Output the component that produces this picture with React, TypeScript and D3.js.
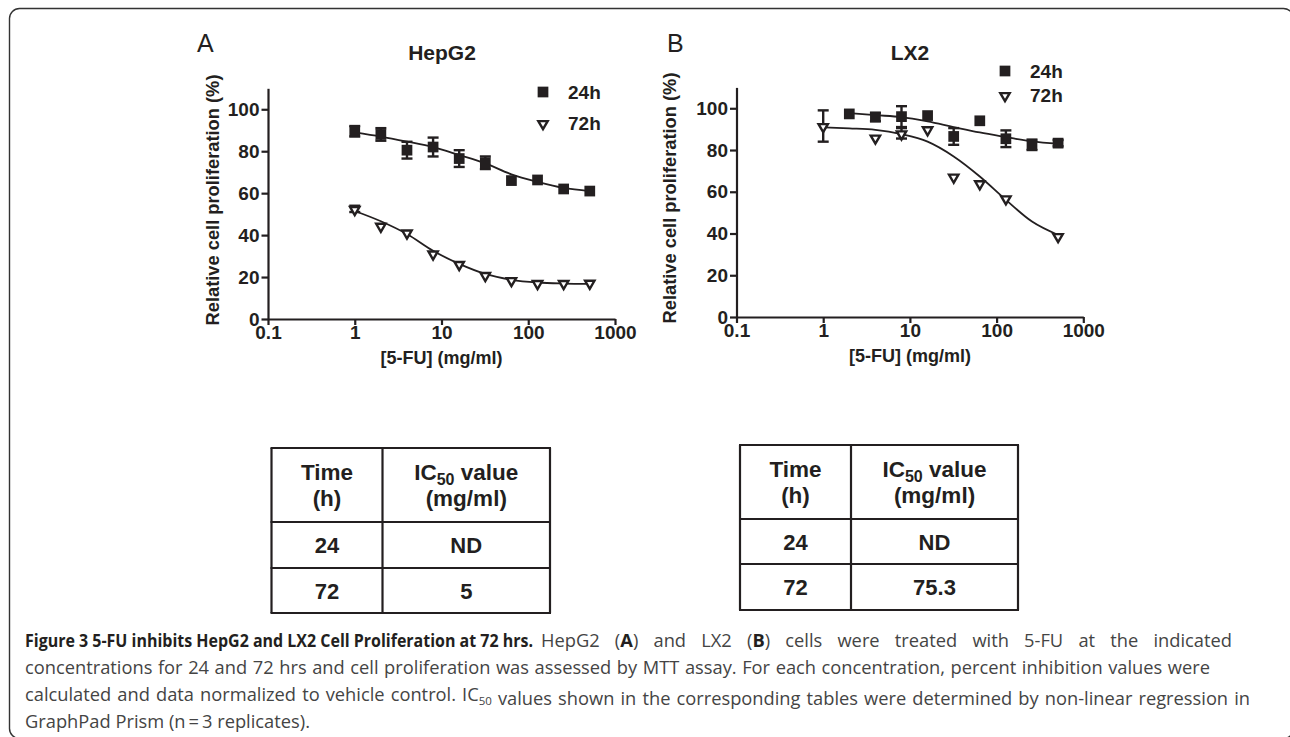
import React, { useEffect, useRef } from "react";
import * as d3 from "d3";

// concentrations of 5-FU (mg/ml)
const doses = [1, 2, 4, 8, 16, 32, 64, 128, 256, 512];
const xTicks = [0.1, 1, 10, 100, 1000];
const yTicks = [0, 20, 40, 60, 80, 100];
const seriesNames = ["24h", "72h"];

// HepG2 (panel A), null = no point
const hepg2Mean24 = [89.5, 88, 80.5, 82, 76.5, 74.5, 66, 66.3, 62, 61];
const hepg2Err24 = [2.5, 3, 4, 4.5, 4, 3, 0, 0, 0, 0];
const hepg2Mean72 = [52.5, 44.5, 41.3, 31.3, 26.3, 21, 18.6, 17.2, 17.2, 17.3];
const hepg2Err72 = [1.5, 0, 0, 0, 0, 0, 0, 0, 0, 0];
const hepg2Fit24 = [89, 87, 84.6, 82, 78.2, 74.2, 69, 65.4, 62.5, 61];
const hepg2Fit72 = [51.5, 46.6, 40.5, 32.5, 26.3, 21.5, 18.7, 17.4, 16.9, 16.7];

// LX2 (panel B)
const lx2Mean24 = [null, 97.3, 95.8, 96, 96.5, 86.5, 94, 85.4, 82.5, 83.3];
const lx2Err24 = [0, 0, 2, 5, 0, 4, 0, 4, 2.5, 1.5];
const lx2Mean72 = [91.5, null, 86, 88, 90, 67.3, 64.1, 56.9, null, 38.8];
const lx2Err72 = [7.5, 0, 0, 2.5, 0, 0, 0, 0, 0, 0];
const lx2Fit24 = [null, 97.7, 96.7, 95.8, 93.7, 91, 88.4, 86.2, 84.1, 83];
const lx2Fit72 = [90.9, 90.4, 89.7, 87.6, 84, 76.9, 67.3, 56.1, 45.7, 39.3];

// IC50 tables
const tableHeader = [["Time", "(h)"], ["IC50 value", "(mg/ml)"]];
const tableTimes = ["24", "72"];
const hepg2Ic50 = ["ND", "5"];
const lx2Ic50 = ["ND", "75.3"];

const captionBold = "Figure 3 5-FU inhibits HepG2 and LX2 Cell Proliferation at 72 hrs.";
const captionLines = [
  "HepG2 (|A|) and LX2 (|B|) cells were treated with 5-FU at the indicated",
  "concentrations for 24 and 72 hrs and cell proliferation was assessed by MTT assay. For each concentration, percent inhibition values were",
  "calculated and data normalized to vehicle control. IC|50| values shown in the corresponding tables were determined by non-linear regression in",
  "GraphPad Prism (n\u2009=\u20093 replicates).",
];
// [x start, right end] of each justified caption run; null = natural width
const captionBoldBox = [25, 533];
const captionBoxes = [[541, 1232], [25, 1210], [25, 1250], [25, null]];

const FONT = "'Liberation Sans', Arial, Helvetica, sans-serif";
const INK = "#231f20";

function drawPanel(svg, p) {
  const g = svg.append("g");
  const x = d3.scaleLog().domain([xTicks[0], xTicks[xTicks.length - 1]]).range([p.x0, p.x1]);
  const y = d3.scaleLinear().domain([0, 110]).range([p.y0, p.y110]);

  // axes
  const xa = g
    .append("g")
    .attr("transform", `translate(0,${p.y0})`)
    .call(d3.axisBottom(x).tickValues(xTicks).tickFormat((d) => String(d)).tickSize(6).tickSizeOuter(0).tickPadding(1));
  const ya = g
    .append("g")
    .attr("transform", `translate(${p.x0},0)`)
    .call(d3.axisLeft(y).tickValues(yTicks).tickSize(6.5).tickSizeOuter(0).tickPadding(2));
  [xa, ya].forEach((a) => {
    a.attr("font-family", FONT).attr("font-size", 19).attr("font-weight", "bold");
    a.selectAll("path,line").attr("stroke", INK).attr("stroke-width", 2.2);
    a.selectAll("text").attr("fill", INK);
  });

  // fitted curves
  const line = d3
    .line()
    .x((d) => x(d[0]))
    .y((d) => y(d[1]))
    .curve(d3.curveMonotoneX);
  [p.fit24, p.fit72].forEach((fit) => {
    const pts = doses.map((d, i) => [d, fit[i]]).filter((d) => d[1] != null);
    g.append("path").attr("d", line(pts)).attr("fill", "none").attr("stroke", INK).attr("stroke-width", 1.8);
  });

  // error bars
  const bars = [];
  [[p.mean24, p.err24], [p.mean72, p.err72]].forEach(([m, e]) => {
    doses.forEach((d, i) => {
      if (m[i] != null && e[i] > 0) bars.push({ d, lo: m[i] - e[i], hi: m[i] + e[i] });
    });
  });
  const eb = g.append("g").attr("stroke", INK).attr("stroke-width", 2.4);
  bars.forEach((b) => {
    eb.append("line").attr("x1", x(b.d)).attr("x2", x(b.d)).attr("y1", y(b.lo)).attr("y2", y(b.hi));
    [b.lo, b.hi].forEach((v) =>
      eb.append("line").attr("x1", x(b.d) - 5.5).attr("x2", x(b.d) + 5.5).attr("y1", y(v)).attr("y2", y(v))
    );
  });

  const square = d3.symbol(d3.symbolSquare, 115)();
  const tri = d3.symbol(d3.symbolTriangle, 38)();

  doses.forEach((d, i) => {
    if (p.mean72[i] == null) return;
    g.append("path")
      .attr("d", tri)
      .attr("transform", `translate(${x(d)},${y(p.mean72[i]) + 0.8}) rotate(180)`)
      .attr("fill", "#fff")
      .attr("stroke", INK)
      .attr("stroke-width", 2.4);
  });
  doses.forEach((d, i) => {
    if (p.mean24[i] == null) return;
    g.append("path").attr("d", square).attr("transform", `translate(${x(d)},${y(p.mean24[i])})`).attr("fill", INK);
  });

  // legend
  const lg = g.append("g").attr("transform", `translate(${p.legX},${p.legY})`);
  lg.append("path").attr("d", square).attr("fill", INK);
  lg.append("path")
    .attr("d", tri)
    .attr("transform", `translate(0,${p.legGap + 0.8}) rotate(180)`)
    .attr("fill", "#fff")
    .attr("stroke", INK)
    .attr("stroke-width", 2.4);
  seriesNames.forEach((s, i) =>
    lg
      .append("text")
      .attr("x", 25)
      .attr("y", i * p.legGap)
      .attr("dy", "0.35em")
      .attr("font-family", FONT)
      .attr("font-size", 19)
      .attr("font-weight", "bold")
      .attr("fill", INK)
      .text(s)
  );

  // titles and labels
  const cx = (p.x0 + p.x1) / 2;
  g.append("text").attr("x", p.letterX).attr("y", p.letterY).attr("font-family", FONT).attr("font-size", 25).attr("fill", INK).text(p.letter);
  g.append("text")
    .attr("x", p.titleX)
    .attr("y", 60)
    .attr("text-anchor", "middle")
    .attr("font-family", FONT)
    .attr("font-size", 21)
    .attr("font-weight", "bold")
    .attr("fill", INK)
    .text(p.title);
  g.append("text")
    .attr("x", cx)
    .attr("y", p.y0 + 45)
    .attr("text-anchor", "middle")
    .attr("font-family", FONT)
    .attr("font-size", 18)
    .attr("font-weight", "bold")
    .attr("fill", INK)
    .text("[5-FU] (mg/ml)");
  g.append("text")
    .attr("transform", `translate(${p.yLabX},${p.y0 - 119}) rotate(-90)`)
    .attr("text-anchor", "middle")
    .attr("dy", "0.35em")
    .attr("font-family", FONT)
    .attr("font-size", 18.3)
    .attr("font-weight", "bold")
    .attr("fill", INK)
    .text("Relative cell proliferation (%)");
}

function drawTable(svg, t, values) {
  const g = svg.append("g").attr("font-family", FONT).attr("font-weight", "bold").attr("fill", INK);
  const rowsY = [t.top, t.head, t.row, t.bottom];
  const colsX = [t.left, t.mid, t.right];
  const s = g.append("g").attr("stroke", INK).attr("stroke-width", 2.2);
  rowsY.forEach((yy) => s.append("line").attr("x1", t.left - 1).attr("x2", t.right + 1).attr("y1", yy).attr("y2", yy));
  colsX.forEach((xx) => s.append("line").attr("x1", xx).attr("x2", xx).attr("y1", t.top).attr("y2", t.bottom));

  const c1 = (t.left + t.mid) / 2;
  const c2 = (t.mid + t.right) / 2;
  const hy = t.top + 32;
  [c1, c2].forEach((cx, ci) => {
    const [l1, l2] = tableHeader[ci];
    const txt = g.append("text").attr("x", cx).attr("y", hy).attr("text-anchor", "middle").attr("font-size", 22.5);
    if (l1.startsWith("IC50")) {
      txt.append("tspan").text("IC");
      txt.append("tspan").attr("font-size", 16).attr("dy", 5).text("50");
      txt.append("tspan").attr("dy", -5).text(" value");
    } else txt.text(l1);
    g.append("text").attr("x", cx).attr("y", hy + 26).attr("text-anchor", "middle").attr("font-size", 22.5).text(l2);
  });
  tableTimes.forEach((tm, i) => {
    const yy = (rowsY[i + 1] + rowsY[i + 2]) / 2 + 8;
    g.append("text").attr("x", c1).attr("y", yy).attr("text-anchor", "middle").attr("font-size", 22).text(tm);
    g.append("text").attr("x", c2).attr("y", yy).attr("text-anchor", "middle").attr("font-size", 22).text(values[i]);
  });
}

// stretch a caption run to its right edge by widening the word gaps (justified text)
function justify(t, x0, x1) {
  if (x1 == null) return;
  const node = t.node();
  const natural = node.getComputedTextLength();
  const spaces = (node.textContent.match(/ /g) || []).length;
  if (spaces > 0) t.attr("word-spacing", Math.max(0, (x1 - x0 - natural) / spaces));
}

function drawCaption(svg) {
  const g = svg.append("g").attr("font-family", "'Open Sans', sans-serif").attr("font-size", 18.3);
  g.append("text")
    .attr("x", captionBoldBox[0])
    .attr("y", 647)
    .attr("textLength", captionBoldBox[1] - captionBoldBox[0])
    .attr("lengthAdjust", "spacingAndGlyphs")
    .attr("font-weight", "bold")
    .attr("fill", INK)
    .text(captionBold);
  captionLines.forEach((ln, i) => {
    const [bx, ex] = captionBoxes[i];
    const t = g.append("text").attr("x", bx).attr("y", 647 + i * 27).attr("fill", "#444");
    ln.split("|").forEach((part, k) => {
      if (k % 2 === 0) t.append("tspan").text(part);
      else if (part === "50") {
        t.append("tspan").attr("font-size", 11.5).attr("dy", 4).text(part);
        t.append("tspan").attr("dy", -4).text("");
      } else t.append("tspan").attr("font-weight", "bold").attr("fill", INK).text(part);
    });
    justify(t, bx, ex);
  });
}

export default function App() {
  const svgRef = useRef(null);

  useEffect(() => {
    if (!svgRef.current) return;
    const svg = d3.select(svgRef.current);
    svg.selectAll("*").remove();

    svg
      .append("rect")
      .attr("x", 9.5)
      .attr("y", 8.5)
      .attr("width", 1284)
      .attr("height", 730)
      .attr("rx", 10)
      .attr("fill", "#fff")
      .attr("stroke", "#333")
      .attr("stroke-width", 1.4);

    drawPanel(svg, {
      x0: 268, x1: 615, y0: 319, y110: 88.3,
      mean24: hepg2Mean24, err24: hepg2Err24, mean72: hepg2Mean72, err72: hepg2Err72,
      fit24: hepg2Fit24, fit72: hepg2Fit72,
      legX: 543, legY: 92, legGap: 31,
      letter: "A", letterX: 197, letterY: 52, title: "HepG2", titleX: 442, yLabX: 213,
    });
    drawPanel(svg, {
      x0: 736.5, x1: 1083.3, y0: 317, y110: 87.4,
      mean24: lx2Mean24, err24: lx2Err24, mean72: lx2Mean72, err72: lx2Err72,
      fit24: lx2Fit24, fit72: lx2Fit72,
      legX: 1005, legY: 71, legGap: 24,
      letter: "B", letterX: 667, letterY: 52, title: "LX2", titleX: 910, yLabX: 670,
    });

    drawTable(svg, { left: 271.5, mid: 382.5, right: 550, top: 448, head: 522, row: 568, bottom: 613 }, hepg2Ic50);
    drawTable(svg, { left: 740, mid: 851, right: 1018, top: 445, head: 519, row: 564, bottom: 610 }, lx2Ic50);

    drawCaption(svg);
  }, []);

  return (
    <svg
      ref={svgRef}
      width={1290}
      height={737}
      style={{ position: "absolute", left: 0, top: 0, background: "#fff" }}
    />
  );
}
